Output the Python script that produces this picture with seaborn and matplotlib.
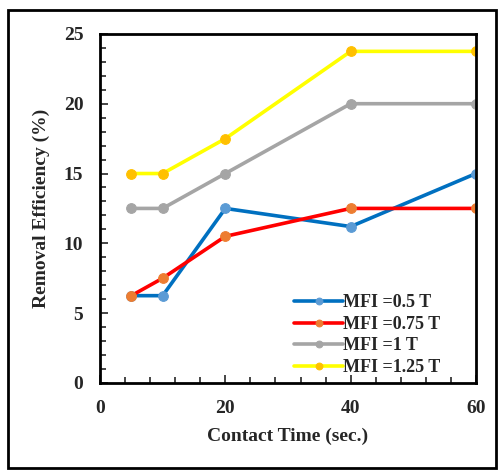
import numpy as np
import pandas as pd
import seaborn as sns
import matplotlib.pyplot as plt
from matplotlib.patches import Rectangle
from matplotlib.ticker import MultipleLocator

time = [5, 10, 20, 40, 60]
mfi_05 = [6.25, 6.25, 12.5, 11.2, 15.0]
mfi_075 = [6.25, 7.5, 10.5, 12.5, 12.5]
mfi_1 = [12.5, 12.5, 15.0, 20.0, 20.0]
mfi_125 = [15.0, 15.0, 17.5, 23.75, 23.75]
labels = ["MFI =0.5 T", "MFI =0.75 T", "MFI =1 T", "MFI =1.25 T"]

line_colors = ["#0070C0", "#FF0000", "#A5A5A5", "#FFFF00"]
marker_colors = ["#5B9BD5", "#ED7D31", "#A5A5A5", "#FFC000"]

sns.set_style("white")
plt.rcParams["font.family"] = ["Liberation Serif", "DejaVu Serif"]
plt.rcParams["font.weight"] = "bold"

fig = plt.figure(figsize=(4.99, 4.71), dpi=100)
ax = fig.add_axes([0.2004, 0.187, 0.7535, 0.741])

for vals, lab, lc, mc in zip([mfi_05, mfi_075, mfi_1, mfi_125], labels, line_colors, marker_colors):
    df = pd.DataFrame({"t": time, "eff": vals})
    sns.lineplot(data=df, x="t", y="eff", ax=ax, color=lc, lw=2.6, marker="o",
                 markersize=7, markerfacecolor=mc, markeredgecolor=mc, label=lab)

ax.set_xlim(0, 60)
ax.set_ylim(0, 25)
ax.xaxis.set_major_locator(MultipleLocator(20))
ax.xaxis.set_minor_locator(MultipleLocator(4))
ax.yaxis.set_major_locator(MultipleLocator(5))
ax.yaxis.set_minor_locator(MultipleLocator(1))
ax.tick_params(which="both", direction="in", bottom=True, left=True, top=False, right=False)
ax.tick_params(which="major", length=6, width=1.2, labelsize=14, pad=12)
ax.tick_params(which="minor", length=4, width=1.2)
for lbl in ax.get_xticklabels() + ax.get_yticklabels():
    lbl.set_fontweight("bold")
for s in ax.spines.values():
    s.set_linewidth(2)
    s.set_color("black")

ax.set_xlabel("Contact Time (sec.)", fontsize=14, fontweight="bold", labelpad=8)
ax.set_ylabel("Removal Efficiency (%)", fontsize=14, fontweight="bold", labelpad=10)

leg = ax.legend(loc="lower right", bbox_to_anchor=(0.905, 0.02), frameon=False,
                handlelength=2.7, handletextpad=0.0, labelspacing=0.25,
                borderaxespad=0, borderpad=0, markerscale=0.7,
                prop={"weight": "bold", "size": 13})

fig.patches.append(Rectangle((0.016, 0.006), 0.978, 0.973, transform=fig.transFigure,
                             fill=False, edgecolor="black", linewidth=2))

fig.savefig("out.png", dpi=100)
